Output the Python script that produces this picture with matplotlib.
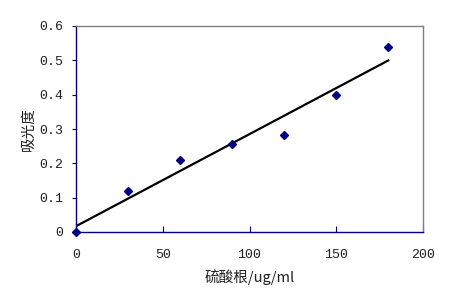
import numpy as np
import matplotlib
matplotlib.use("Agg")
import matplotlib.pyplot as plt

# sulfate concentration (ug/ml) vs absorbance
conc = [0, 30, 60, 90, 120, 150, 180]
absorbance = [0.0, 0.12, 0.21, 0.255, 0.283, 0.40, 0.54]
x_ticks = [0, 50, 100, 150, 200]
y_ticks = [0, 0.1, 0.2, 0.3, 0.4, 0.5, 0.6]

NAVY = "#000080"
TEXT = "#202020"
mono = ["Liberation Mono", "DejaVu Sans Mono"]
cjk = ["Noto Sans CJK SC", "Liberation Mono"]

fig = plt.figure(figsize=(4.53, 3.03), dpi=100)
ax = fig.add_axes([76 / 453, 1 - 232 / 303, (423 - 76) / 453, (232 - 26) / 303])

# linear trendline
slope, intercept = np.polyfit(conc, absorbance, 1)
xfit = np.array([conc[0], conc[-1]])
ax.plot(xfit, slope * xfit + intercept, color="black", linewidth=1.6, zorder=2)
ax.plot(conc, absorbance, linestyle="none", marker="D", markersize=4.2,
        color=NAVY, zorder=3, clip_on=False)

ax.set_xlim(0, 200)
ax.set_ylim(0, 0.6)
ax.set_xticks(x_ticks)
ax.set_yticks(y_ticks)
ax.set_xticklabels([str(v) for v in x_ticks], family=mono, fontsize=9.5, color=TEXT)
ax.set_yticklabels([("%.1f" % v) if v else "0" for v in y_ticks],
                   family=mono, fontsize=9.5, color=TEXT)
ax.tick_params(axis="x", direction="in", length=4, color=NAVY, pad=12)
ax.tick_params(axis="y", direction="out", length=3, color=NAVY, pad=6)

for side in ["left", "bottom"]:
    ax.spines[side].set_color(NAVY)
    ax.spines[side].set_linewidth(1)
for side in ["top", "right"]:
    ax.spines[side].set_color("#808080")
    ax.spines[side].set_linewidth(1)

ax.set_xlabel("硫酸根/ug/ml", family=cjk, fontsize=10.5, color=TEXT, labelpad=6)
ax.set_ylabel("吸光度", family=cjk, fontsize=10.5, color=TEXT, labelpad=3)

plt.savefig("out.png", dpi=100)
